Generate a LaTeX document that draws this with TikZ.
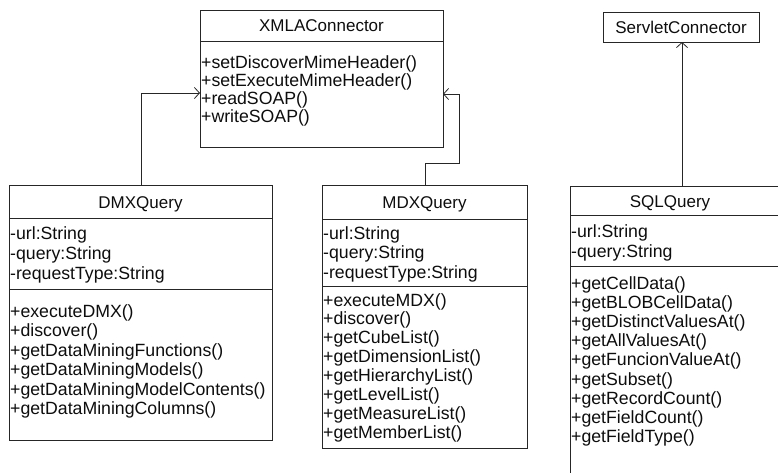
\documentclass[tikz,border=0pt]{standalone}
\usepackage{fontspec}
\setmainfont{Liberation Sans}
\usetikzlibrary{arrows.meta}
\definecolor{linec}{gray}{0.15}
\definecolor{textc}{gray}{0.05}
\begin{document}
\begin{tikzpicture}[x=1pt,y=-1pt,
  classbox/.style={draw=linec, line width=0.9pt, inner sep=0pt, anchor=north west},
  sepline/.style={draw=linec, line width=0.8pt},
  txt/.style={anchor=base west, inner sep=0pt, font=\fontsize{17.7}{19}\selectfont, text=textc},
  ttl/.style={anchor=base, inner sep=0pt, font=\fontsize{17}{19}\selectfont, text=textc},
  conn/.style={draw=linec, line width=0.8pt, -{Straight Barb[length=5pt,width=11pt,line width=0.8pt]}}]
\useasboundingbox (0,0) rectangle (778,472);
\clip (0,0) rectangle (778,472);

% XMLAConnector
\node[classbox, minimum width=243pt, minimum height=137pt] (xmla) at (200,10) {};
\draw[sepline] (200,41) -- (443,41);
\node[ttl] (xmlat) at (321.5,31) {XMLAConnector};
\foreach [count=\i] \t in {+setDiscoverMimeHeader(), +setExecuteMimeHeader(), +readSOAP(), +writeSOAP()}
  \node[txt] (xmlam\i) at (201,{62+18*(\i-1)+6}) {\t};

% ServletConnector
\node[classbox, minimum width=156pt, minimum height=30pt] (serv) at (603,12) {};
\node[ttl] (servt) at (681,33) {ServletConnector};

% DMXQuery
\node[classbox, minimum width=263pt, minimum height=255pt] (dmx) at (9,185) {};
\draw[sepline] (9,218) -- (272,218);
\draw[sepline] (9,289) -- (272,289);
\node[ttl] (dmxt) at (140.5,208) {DMXQuery};
\foreach [count=\i] \t in {-url:String, -query:String, -requestType:String}
  \node[txt] (dmxa\i) at (10,{233+20*(\i-1)+6}) {\t};
\foreach [count=\i] \t in {+executeDMX(), +discover(), +getDataMiningFunctions(), +getDataMiningModels(), +getDataMiningModelContents(), +getDataMiningColumns()}
  \node[txt] (dmxm\i) at (10,{311+19.5*(\i-1)+6}) {\t};

% MDXQuery
\node[classbox, minimum width=205pt, minimum height=263pt] (mdx) at (322,185) {};
\draw[sepline] (322,219) -- (527,219);
\draw[sepline] (322,286) -- (527,286);
\node[ttl] (mdxt) at (424.5,208) {MDXQuery};
\foreach [count=\i] \t in {-url:String, -query:String, -requestType:String}
  \node[txt] (mdxa\i) at (323,{233+19.5*(\i-1)+6}) {\t};
\foreach [count=\i] \t in {+executeMDX(), +discover(), +getCubeList(), +getDimensionList(), +getHierarchyList(), +getLevelList(), +getMeasureList(), +getMemberList()}
  \node[txt] (mdxm\i) at (323,{300+18.9*(\i-1)+6}) {\t};

% SQLQuery
\node[classbox, minimum width=220pt, minimum height=310pt] (sql) at (570,186) {};
\draw[sepline] (570,215) -- (790,215);
\draw[sepline] (570,266) -- (790,266);
\node[ttl] (sqlt) at (670,207) {SQLQuery};
\foreach [count=\i] \t in {-url:String, -query:String}
  \node[txt] (sqla\i) at (571,{231+20*(\i-1)+6}) {\t};
\foreach [count=\i] \t in {+getCellData(), +getBLOBCellData(), +getDistinctValuesAt(), +getAllValuesAt(), +getFuncionValueAt(), +getSubset(), +getRecordCount(), +getFieldCount(), +getFieldType()}
  \node[txt] (sqlm\i) at (571,{283+19.2*(\i-1)+6}) {\t};

% connectors
\coordinate (dmxtop) at (141,185);
\coordinate (xmlaL) at (200,93);
\draw[conn] (dmxtop) |- (xmlaL);

\coordinate (mdxtop) at (425,185);
\coordinate (mdxbend) at (459,163);
\coordinate (xmlaR) at (443,94);
\draw[conn] (mdxtop) |- (mdxbend) |- (xmlaR);

\coordinate (sqltop) at (682,186);
\coordinate (servB) at (682,42);
\draw[conn] (sqltop) -- (servB);
\end{tikzpicture}
\end{document}
